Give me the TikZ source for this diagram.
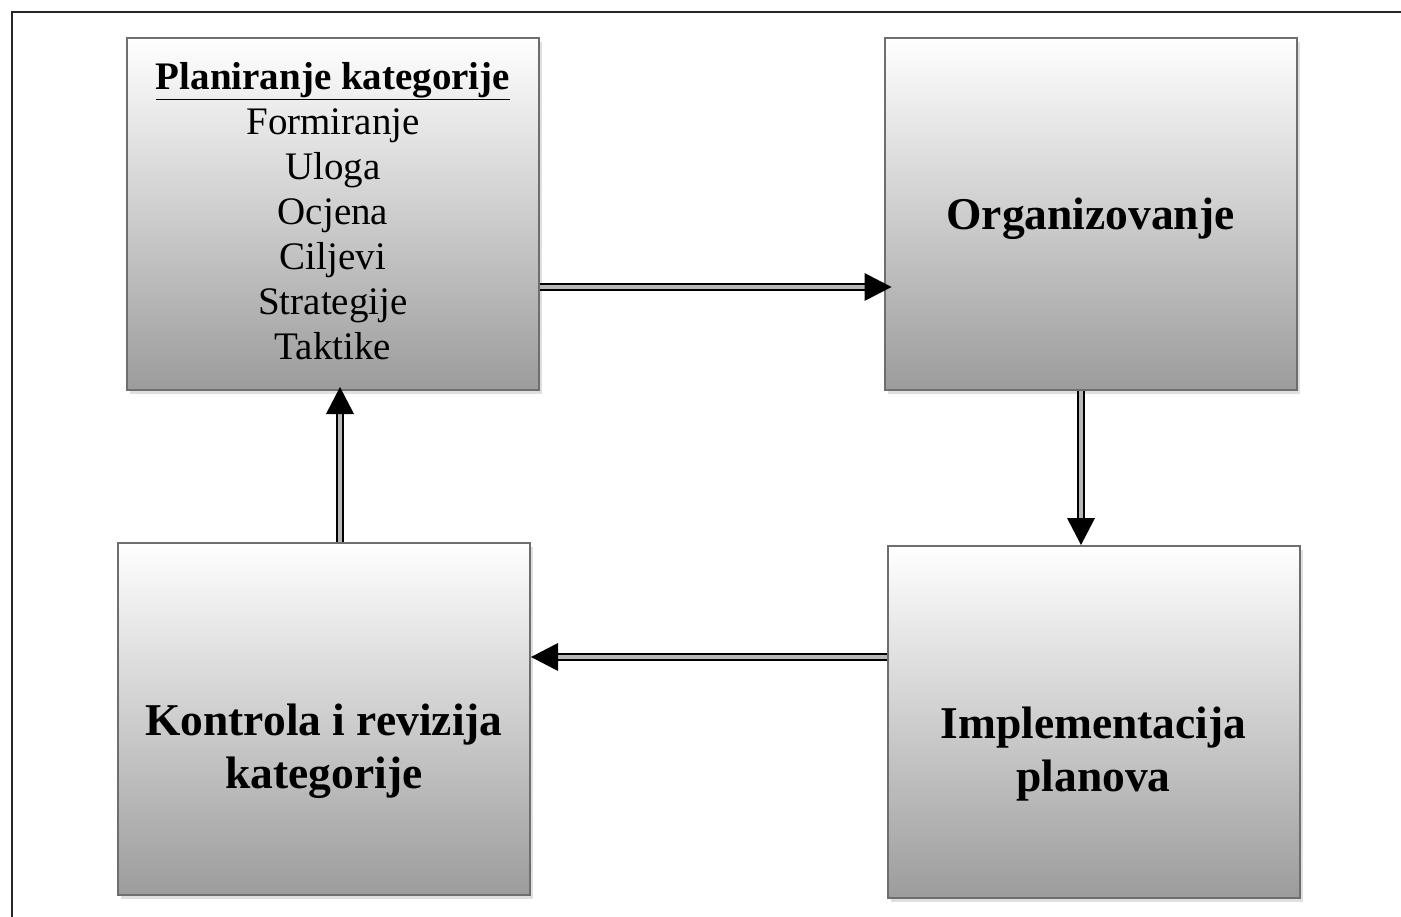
\documentclass[tikz,border=0pt]{standalone}
\usepackage{fontspec}
\setmainfont{Liberation Serif}
\usetikzlibrary{arrows.meta,shadows,calc}
\definecolor{boxborder}{HTML}{6E6E6E}
\definecolor{boxbottom}{HTML}{9C9C9C}
\definecolor{gapgray}{HTML}{B8B8B8}
\newcommand{\thickul}[1]{\underline{#1}}
\tikzset{
  stagebox/.style={draw=boxborder, line width=2pt, top color=white, bottom color=boxbottom,
    minimum width=412pt, minimum height=352pt, inner sep=0pt,
    drop shadow={opacity=0.25, shadow xshift=3pt, shadow yshift=-4pt}},
  boldtxt/.style={font=\fontsize{45.5}{53}\selectfont\bfseries, align=center, inner sep=0pt},
  listtxt/.style={font=\fontsize{39}{45}\selectfont, align=center, inner sep=0pt},
  dblline/.style={draw=black, line width=2.6pt, double=gapgray, double distance=3.6pt},
  headfill/.style={fill=black},
}
\begin{document}
\begin{tikzpicture}[x=1pt,y=-1pt]
\useasboundingbox (0,0) rectangle (1401,917);
\fill[white] (0,0) rectangle (1401,917);
% outer frame
\draw[line width=2.6pt, draw=black!85] (12,12) rectangle (1430,950);

% boxes
\node[stagebox] (plan) at (333,214) {};
\node[stagebox] (org)  at (1090.5,214) {};
\node[stagebox] (ctrl) at (324,719) {};
\node[stagebox] (impl) at (1093.5,722) {};

% texts
\node[listtxt] (plantxt) at (333,211) {\textbf{\thickul{Planiranje kategorije}}\\Formiranje\\Uloga\\Ocjena\\Ciljevi\\Strategije\\Taktike};
\node[boldtxt] (orgtxt) at (1090.5,219) {Organizovanje};
\node[boldtxt] (ctrltxt) at (324,751) {Kontrola i revizija\\kategorije};
\node[boldtxt] (impltxt) at (1093.5,754) {Implementacija\\planova};

% helper coordinates
\coordinate (y1) at (0,287);
\coordinate (x2) at (1081,0);
\coordinate (y3) at (0,657);
\coordinate (x4) at (340,0);

% arrow plan -> org
\coordinate (a1s) at (plan.east |- y1);
\coordinate (a1e) at ([xshift=8pt]org.west |- y1);
\draw[dblline] (a1s) -- ($(a1e)!22pt!(a1s)$);
\fill[headfill] (a1e) -- ++(-27,-14) -- ++(0,28) -- cycle;

% arrow org -> impl
\coordinate (a2s) at (org.south -| x2);
\coordinate (a2e) at (impl.north -| x2);
\draw[dblline] (a2s) -- ($(a2e)!22pt!(a2s)$);
\fill[headfill] (a2e) -- ++(-14,-27) -- ++(28,0) -- cycle;

% arrow impl -> ctrl
\coordinate (a3s) at (impl.west |- y3);
\coordinate (a3e) at (ctrl.east |- y3);
\draw[dblline] (a3s) -- ($(a3e)!22pt!(a3s)$);
\fill[headfill] (a3e) -- ++(27,-14) -- ++(0,28) -- cycle;

% arrow ctrl -> plan
\coordinate (a4s) at (ctrl.north -| x4);
\coordinate (a4e) at ([yshift=4pt]plan.south -| x4);
\draw[dblline] (a4s) -- ($(a4e)!22pt!(a4s)$);
\fill[headfill] (a4e) -- ++(-14,27) -- ++(28,0) -- cycle;
\end{tikzpicture}
\end{document}
